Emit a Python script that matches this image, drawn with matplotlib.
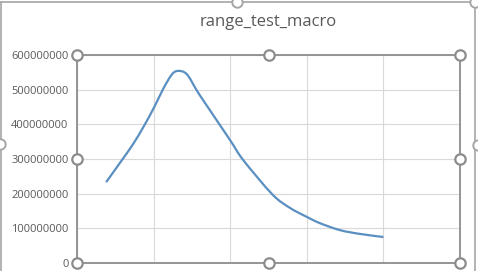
import matplotlib
matplotlib.use("Agg")
import matplotlib.pyplot as plt
from matplotlib.lines import Line2D
from matplotlib.path import Path
from matplotlib.patches import PathPatch

title = "range_test_macro"
x_vals = [0.38, 0.60, 0.735, 0.866, 1.009, 1.127, 1.236, 1.315, 1.432, 1.563, 1.67,
          2.00, 2.17, 2.55, 2.78, 3.00, 3.17, 3.43, 3.69, 4.00]
y_vals = [233e6, 301e6, 344e6, 392e6, 450e6, 503e6, 543e6, 554e6, 545e6, 498e6, 462e6,
          354e6, 297e6, 198e6, 159e6, 133e6, 115e6, 95e6, 84e6, 75e6]
y_ticks = [0, 100000000, 200000000, 300000000, 400000000, 500000000, 600000000]
x_grid = [0, 1, 2, 3, 4, 5]

plt.rcParams['font.family'] = ['Open Sans', 'DejaVu Sans']
W, H = 478, 271
fig = plt.figure(figsize=(W / 100, H / 100), dpi=100)
fig.patch.set_facecolor('white')

L, R, T, B = 77, 460, 55, 263
ax = fig.add_axes([L / W, 1 - B / H, (R - L) / W, (B - T) / H])

# smoothed line (Excel-style Catmull-Rom Bezier through the data points)
pts = list(zip(x_vals, y_vals))
n = len(pts)
verts = [pts[0]]
codes = [Path.MOVETO]
for i in range(n - 1):
    p0 = pts[i - 1] if i > 0 else pts[i]
    p1 = pts[i]
    p2 = pts[i + 1]
    p3 = pts[i + 2] if i + 2 < n else pts[i + 1]
    c1 = (p1[0] + (p2[0] - p0[0]) / 6, p1[1] + (p2[1] - p0[1]) / 6)
    c2 = (p2[0] - (p3[0] - p1[0]) / 6, p2[1] - (p3[1] - p1[1]) / 6)
    verts += [c1, c2, p2]
    codes += [Path.CURVE4] * 3
ax.add_patch(PathPatch(Path(verts, codes), fill=False, edgecolor='#5a8fc2',
                       lw=1.6, transform=ax.transData, zorder=3))

ax.set_xlim(x_grid[0], x_grid[-1])
ax.set_ylim(y_ticks[0], y_ticks[-1])
ax.set_yticks(y_ticks)
ax.set_yticklabels([str(v) for v in y_ticks], fontsize=8, color='#595959')
ax.set_xticks(x_grid)
ax.set_xticklabels([])
ax.tick_params(length=0, pad=6)
ax.grid(True, color='#d9d9d9', lw=0.8)
ax.set_axisbelow(True)
for s in ax.spines.values():
    s.set_color('#8c8c8c')
    s.set_linewidth(1.3)

fig.text((L + R) / 2 / W, 1 - 22 / H, title, ha='center', va='center',
         fontsize=12, color='#595959')

# plot-area selection handles
hx = [0, 0.5, 1, 0, 1, 0, 0.5, 1]
hy = [1, 1, 1, 0.5, 0.5, 0, 0, 0]
ax.plot(hx, hy, 'o', transform=ax.transAxes, clip_on=False, ms=7.5,
        mfc='white', mec='#8c8c8c', mew=1.6, zorder=10)

# outer chart frame
fx0, fx1, fy0 = 1, 475, 2
def P(px, py):
    return px / W, 1 - py / H
fig.add_artist(Line2D([P(fx0, fy0)[0], P(fx1, fy0)[0]], [P(fx0, fy0)[1]] * 2,
                      color='#a6a6a6', lw=1.2))
fig.add_artist(Line2D([P(fx1, 0)[0]] * 2, [P(fx1, fy0)[1], P(fx1, 280)[1]],
                      color='#a6a6a6', lw=1.2))
fig.add_artist(Line2D([P(fx0, 0)[0]] * 2, [P(fx0, fy0)[1], P(fx0, 280)[1]],
                      color='#a6a6a6', lw=1.2))
ox = [P(237, 2)[0], P(475, 2)[0], P(0, 144)[0], P(478, 145)[0]]
oy = [P(237, 2)[1], P(475, 2)[1], P(0, 144)[1], P(478, 145)[1]]
fig.add_artist(Line2D(ox, oy, ls='none', marker='o', ms=7.5, mfc='white',
                      mec='#a6a6a6', mew=1.4))

fig.savefig('out.png', dpi=100, facecolor='white')
